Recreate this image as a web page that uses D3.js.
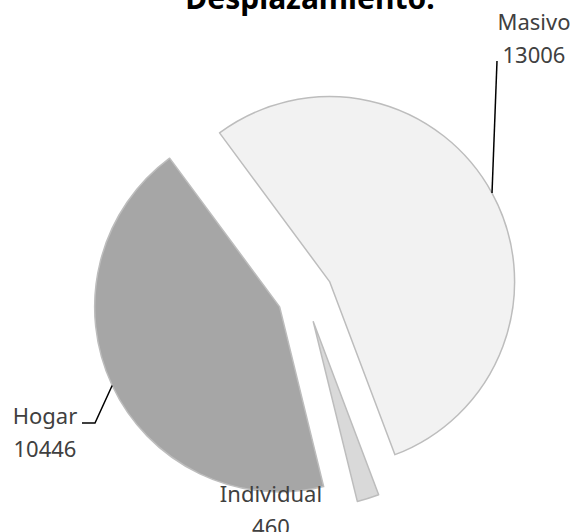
<!DOCTYPE html>
<html>
<head>
<meta charset="utf-8">
<script src="https://cdn.jsdelivr.net/npm/d3@7"></script>
<style>
  body { margin: 0; background: #fff; }
  svg { display: block; }
</style>
</head>
<body>
<div id="chart"></div>
<script>
// data, in clockwise order from the first slice
var categories = ['Masivo', 'Individual', 'Hogar'];
var values = [13006, 460, 10446];
var title = 'Desplazamiento.';

var width = 576,
  height = 532,
  cx = 305,
  cy = 295,
  radius = 185,
  explode = 28,
  startDeg = -36.5;

var fills = { Masivo: '#f2f2f2', Individual: '#d9d9d9', Hogar: '#a6a6a6' };

// label placement (dragged labels in the original)
var labelPos = {
  Masivo: { x: 534, y: 30, leader: [[497, 61]] },
  Hogar: { x: 45, y: 424, leader: [[95, 423], [82, 423]] },
  Individual: { x: 271, y: 502, leader: null }
};

var data = categories.map(function (c, i) {
  return { name: c, value: values[i] };
});

var svg = d3
  .select('#chart')
  .append('svg')
  .attr('width', width)
  .attr('height', height);

var pie = d3
  .pie()
  .sort(null)
  .value(function (d) { return d.value; })
  .startAngle(startDeg * Math.PI / 180)
  .endAngle(startDeg * Math.PI / 180 + 2 * Math.PI);

var arc = d3.arc().innerRadius(0).outerRadius(radius);

var arcs = pie(data);

function offset(d, dist) {
  var a = (d.startAngle + d.endAngle) / 2;
  return [Math.sin(a) * dist, -Math.cos(a) * dist];
}

var g = svg.append('g').attr('transform', 'translate(' + cx + ',' + cy + ')');

g
  .selectAll('path')
  .data(arcs)
  .enter()
  .append('path')
  .attr('transform', function (d) {
    var o = offset(d, explode);
    return 'translate(' + o[0] + ',' + o[1] + ')';
  })
  .attr('d', arc)
  .style('fill', function (d) { return fills[d.data.name]; })
  .style('stroke', '#bdbdbd')
  .style('stroke-width', 1.5)
  .style('stroke-linejoin', 'round');

// leader lines
arcs.forEach(function (d) {
  var lp = labelPos[d.data.name];
  if (!lp.leader) return;
  var o = offset(d, explode);
  var p = offset(d, radius);
  var pts = [[cx + o[0] + p[0], cy + o[1] + p[1]]].concat(lp.leader);
  svg
    .append('path')
    .attr('d', d3.line()(pts))
    .style('fill', 'none')
    .style('stroke', '#000')
    .style('stroke-width', 1.5);
});

// labels
arcs.forEach(function (d) {
  var lp = labelPos[d.data.name];
  var t = svg
    .append('text')
    .attr('text-anchor', 'middle')
    .style('font-family', "'Noto Sans', sans-serif")
    .style('font-size', '22px')
    .style('fill', '#404040');
  t.append('tspan').attr('x', lp.x).attr('y', lp.y).text(d.data.name);
  t.append('tspan').attr('x', lp.x).attr('y', lp.y + 33).text(d3.format('d')(d.data.value));
});

svg
  .append('text')
  .attr('x', 310)
  .attr('y', 9)
  .attr('text-anchor', 'middle')
  .style('font-family', "'Noto Sans', sans-serif")
  .style('font-weight', 'bold')
  .style('font-size', '30px')
  .style('fill', '#000')
  .text(title);
</script>
</body>
</html>
